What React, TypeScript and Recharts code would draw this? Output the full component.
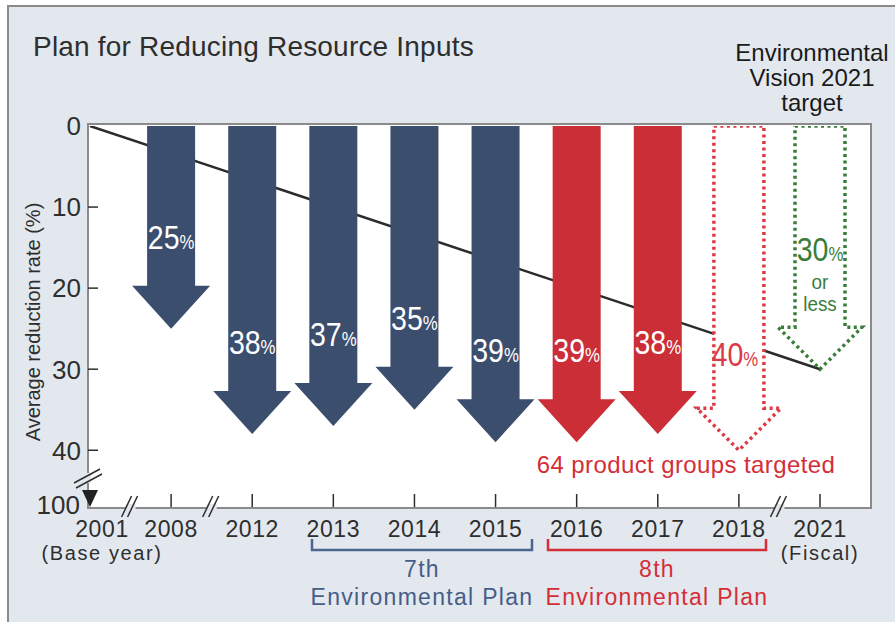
import React from 'react'
import { ComposedChart, Line, XAxis, YAxis } from 'recharts'

// fiscal years on the axis (2001 is the base year)
const years = ['2001', '2008', '2012', '2013', '2014', '2015', '2016', '2017', '2018', '2021']
// average reduction rate of resource inputs (%)
const reductionRates: (number | null)[] = [null, 25, 38, 37, 35, 39, 39, 38, 40, 30]
// result = achieved, target = plan target, vision = Environmental Vision 2021
const stages = ['base', 'result', 'result', 'result', 'result', 'result', 'result8', 'result8', 'target8', 'vision']
// straight trend from the base year to the 2021 vision target
const trendRates: (number | null)[] = [0, null, null, null, null, null, null, null, null, 30]
const yearNotes = ['(Base year)', '', '', '', '', '', '', '', '', '(Fiscal)']
const breaksBefore = ['2008', '2012', '2021']
const rateTicks = [0, 10, 20, 30, 40]
const brokenAxisLabel = '100'

const data = years.map((year, i) => ({
  year,
  reduction: reductionRates[i],
  stage: stages[i],
  trend: trendRates[i],
  note: yearNotes[i],
}))

const FONT = '"Liberation Sans", Arial, Helvetica, sans-serif'
const W = 895
const H = 622
const PLOT_TOP = 126
const PLOT_LEFT = 88
const PLOT_RIGHT = 871
const PLOT_BOTTOM = 507
const AXIS_END = 47 // where the broken axis shows "100"
const PAD_L = 2
const PAD_R = 51
const STEP = (PLOT_RIGHT - PAD_R - (PLOT_LEFT + PAD_L)) / (years.length - 1)

const NAVY = '#3b4e6e'
const RED = '#cc2e38'
const RED_DOT = '#dc3a44'
const GREEN = '#3a7d3a'
const INK = '#2e2e2e'
const BG = '#e3e8ef'
const FRAME = '#8a8a8a'

function Pct({ x, y, value, color }: { x: number; y: number; value: number; color: string }) {
  return (
    <g transform={`translate(${x},${y}) scale(0.84,1)`}>
      <text x={0} y={0} textAnchor="middle" fill={color} fontFamily={FONT}>
        <tspan fontSize={34}>{value}</tspan>
        <tspan fontSize={20}>%</tspan>
      </text>
    </g>
  )
}

function renderArrow(props: any) {
  const { cx, cy, index, payload } = props
  if (payload.reduction == null || cx == null || cy == null) return <g key={`a${index}`} />
  const dotted = payload.stage === 'target8' || payload.stage === 'vision'
  const s = dotted ? 25 : 24
  const h = dotted ? 42 : 39
  const hh = dotted ? 42 : 43
  const top = dotted ? PLOT_TOP : PLOT_TOP - 2
  const d = `M${cx - s},${top} L${cx + s},${top} L${cx + s},${cy - hh} L${cx + h},${cy - hh} L${cx},${cy} L${cx - h},${cy - hh} L${cx - s},${cy - hh} Z`

  if (payload.stage === 'vision') {
    return (
      <g key={`a${index}`}>
        <path d={d} fill="none" stroke={GREEN} strokeWidth={3.5} strokeDasharray="3 3.5" />
        <Pct x={cx} y={cy - 108} value={payload.reduction} color={GREEN} />
        <g transform={`translate(${cx},0) scale(0.9,1)`}>
          <text x={0} y={cy - 80} textAnchor="middle" fontSize={21} fill={GREEN} fontFamily={FONT}>or</text>
          <text x={0} y={cy - 58} textAnchor="middle" fontSize={21} fill={GREEN} fontFamily={FONT}>less</text>
        </g>
      </g>
    )
  }
  if (payload.stage === 'target8') {
    return (
      <g key={`a${index}`}>
        <path d={d} fill="#ffffff" stroke={RED_DOT} strokeWidth={3.5} strokeDasharray="3 3.5" />
        <Pct x={cx - 4} y={cy - 84} value={payload.reduction} color={RED_DOT} />
      </g>
    )
  }
  const fill = payload.stage === 'result8' ? RED : NAVY
  return (
    <g key={`a${index}`}>
      <path d={d} fill={fill} />
      <Pct x={cx} y={cy - 80} value={payload.reduction} color="#ffffff" />
    </g>
  )
}

function XBreak({ x, y }: { x: number; y: number }) {
  return (
    <g>
      <rect x={x - 5} y={y - 3} width={10} height={6} fill={BG} />
      <line x1={x - 9} y1={y + 10} x2={x + 1} y2={y - 11} stroke={INK} strokeWidth={1.5} />
      <line x1={x - 3} y1={y + 10} x2={x + 7} y2={y - 11} stroke={INK} strokeWidth={1.5} />
    </g>
  )
}

function YearTick(props: any) {
  const { x, y, index } = props
  const row = data[index]
  if (!row) return <g />
  const first = index === 0
  const lx = first ? x + 12 : x
  return (
    <g>
      {first ? (
        <path d={`M${x - 8},${y - 17} L${x + 8},${y - 17} L${x},${y} Z`} fill="#222" />
      ) : (
        <line x1={x} x2={x} y1={y} y2={y - 13} stroke={INK} strokeWidth={1.5} />
      )}
      {breaksBefore.includes(row.year) && <XBreak x={x - STEP / 2} y={y} />}
      <text x={lx} y={y + 30} textAnchor="middle" fontSize={23} fill={INK} fontFamily={FONT} letterSpacing={0.6}>
        {row.year}
      </text>
      {row.note && (
        <text x={lx} y={y + 53} textAnchor="middle" fontSize={20} fill={INK} fontFamily={FONT} letterSpacing={1.6}>
          {row.note}
        </text>
      )}
    </g>
  )
}

function RateTick(props: any) {
  const { x, y, payload } = props
  if (payload.value === AXIS_END) {
    const by = y - 29
    return (
      <g>
        <rect x={x - 3} y={by - 5} width={6} height={10} fill={BG} />
        <line x1={x - 14} y1={by + 5} x2={x + 12} y2={by - 9} stroke={INK} strokeWidth={1.5} />
        <line x1={x - 12} y1={by + 10} x2={x + 14} y2={by - 4} stroke={INK} strokeWidth={1.5} />
        <text x={x - 8} y={y - 2} dy="0.36em" textAnchor="end" fontSize={26} fill={INK} fontFamily={FONT}>
          {brokenAxisLabel}
        </text>
      </g>
    )
  }
  return (
    <g>
      {payload.value !== 0 && <line x1={x} x2={x + 10} y1={y} y2={y} stroke={INK} strokeWidth={1.5} />}
      <text x={x - 7} y={y} dy="0.36em" textAnchor="end" fontSize={26} fill={INK} fontFamily={FONT}>
        {payload.value}
      </text>
    </g>
  )
}

export default function App() {
  return (
    <div style={{ position: 'fixed', left: 0, top: 0, width: W, height: H, overflow: 'hidden', fontFamily: FONT }}>
      <div
        style={{
          position: 'absolute', left: 7, top: 5, right: 0, bottom: 0, background: BG,
          borderLeft: `2px solid ${FRAME}`, borderTop: `2px solid ${FRAME}`,
        }}
      />
      <div
        style={{
          position: 'absolute', left: PLOT_LEFT - 1, top: PLOT_TOP - 3,
          width: PLOT_RIGHT - PLOT_LEFT + 2, height: PLOT_BOTTOM - PLOT_TOP + 5,
          boxSizing: 'border-box', border: `2px solid ${FRAME}`, background: '#ffffff',
        }}
      />
      <div style={{ position: 'absolute', left: 0, top: 0 }}>
        <ComposedChart
          width={W}
          height={H}
          data={data}
          margin={{ top: PLOT_TOP, right: W - PLOT_RIGHT, bottom: H - PLOT_BOTTOM - 40, left: PLOT_LEFT - 50 }}
        >
          <XAxis
            dataKey="year"
            scale="point"
            padding={{ left: PAD_L, right: PAD_R }}
            axisLine={false}
            tickLine={false}
            tickSize={0}
            tickMargin={0}
            height={40}
            interval={0}
            tick={(p: any) => <YearTick {...p} />}
          />
          <YAxis
            type="number"
            domain={[0, AXIS_END]}
            reversed
            allowDataOverflow
            ticks={[...rateTicks, AXIS_END]}
            axisLine={false}
            tickLine={false}
            tickSize={0}
            tickMargin={0}
            width={50}
            interval={0}
            tick={(p: any) => <RateTick {...p} />}
          />
          <Line
            dataKey="trend"
            connectNulls
            stroke="#2b2b2b"
            strokeWidth={2.5}
            dot={false}
            activeDot={false}
            isAnimationActive={false}
          />
          <Line
            dataKey="reduction"
            stroke="none"
            dot={renderArrow}
            activeDot={false}
            isAnimationActive={false}
          />
        </ComposedChart>
      </div>
      <svg width={W} height={H} style={{ position: 'absolute', left: 0, top: 0, pointerEvents: 'none' }}>
        <text x={33} y={56} fontSize={28} fill={INK} fontFamily={FONT} letterSpacing={0.2}>
          Plan for Reducing Resource Inputs
        </text>
        <g fontSize={24} fill="#1a1a1a" fontFamily={FONT} textAnchor="middle">
          <text x={812} y={61}>Environmental</text>
          <text x={812} y={86}>Vision 2021</text>
          <text x={812} y={111}>target</text>
        </g>
        <text
          transform="translate(40,322) rotate(-90)"
          textAnchor="middle"
          fontSize={20}
          fill={INK}
          fontFamily={FONT}
        >
          Average reduction rate (%)
        </text>
        <text x={686} y={473} textAnchor="middle" fontSize={24} fill="#d42e37" fontFamily={FONT} letterSpacing={0.4}>
          64 product groups targeted
        </text>
        <path d="M312,539 L312,550 L532,550 L532,539" fill="none" stroke="#4a6590" strokeWidth={2.5} />
        <g fontSize={23} fill="#465d88" fontFamily={FONT} textAnchor="middle" letterSpacing={1.3}>
          <text x={422} y={577}>7th</text>
          <text x={422} y={605}>Environmental Plan</text>
        </g>
        <path d="M548,539 L548,550 L766,550 L766,539" fill="none" stroke="#d42e37" strokeWidth={2.5} />
        <g fontSize={23} fill="#d42e37" fontFamily={FONT} textAnchor="middle" letterSpacing={1.3}>
          <text x={657} y={577}>8th</text>
          <text x={657} y={605}>Environmental Plan</text>
        </g>
      </svg>
    </div>
  )
}
